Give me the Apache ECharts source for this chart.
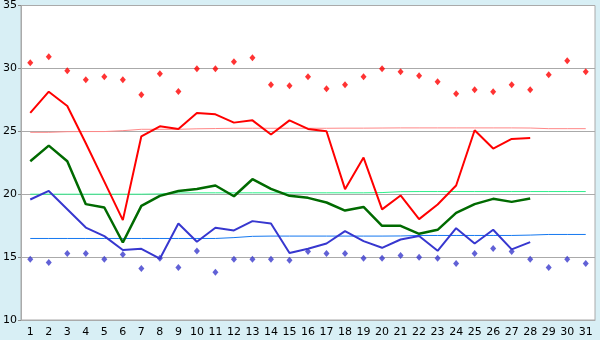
<!DOCTYPE html>
<html>
<head>
<meta charset="utf-8">
<script src="https://cdn.jsdelivr.net/npm/echarts@6/dist/echarts.min.js"></script>
<style>
  html, body { margin: 0; padding: 0; background: #d8eff5; }
  #chart { width: 600px; height: 340px; }
</style>
</head>
<body>
<div id="chart"></div>
<script>
// 日期 1..31
var days = [];
for (var d = 1; d <= 31; d++) days.push(String(d));

// 实测值 (1-28日)
var maxTemp = [26.46, 28.15, 27.01, 24.05, 21.0, 17.94, 24.6, 25.4, 25.19, 26.46,
  26.35, 25.69, 25.87, 24.74, 25.87, 25.19, 25.0, 20.4, 22.91, 18.79,
  19.9, 18.02, 19.18, 20.69, 25.08, 23.63, 24.39, 24.47];
var meanTemp = [22.62, 23.86, 22.62, 19.21, 18.94, 16.16, 19.07, 19.87, 20.26, 20.42,
  20.69, 19.84, 21.19, 20.42, 19.87, 19.71, 19.34, 18.7, 18.99, 17.49,
  17.49, 16.85, 17.17, 18.52, 19.21, 19.63, 19.39, 19.66];
var minTemp = [19.58, 20.26, 18.81, 17.35, 16.67, 15.56, 15.66, 14.87, 17.67, 16.22,
  17.33, 17.12, 17.86, 17.67, 15.32, 15.66, 16.08, 17.06, 16.27, 15.74,
  16.4, 16.67, 15.5, 17.3, 16.08, 17.17, 15.61, 16.19];

// 平年值
var normalMax = [24.92, 24.92, 24.97, 24.98, 24.98, 25.05, 25.16, 25.16, 25.16, 25.2,
  25.22, 25.24, 25.24, 25.24, 25.24, 25.24, 25.24, 25.25, 25.25, 25.26,
  25.27, 25.27, 25.27, 25.27, 25.27, 25.27, 25.27, 25.26, 25.21, 25.21, 25.21];
var normalMean = [20.0, 20.0, 20.0, 20.0, 20.0, 20.0, 20.0, 20.02, 20.1, 20.11,
  20.11, 20.11, 20.11, 20.11, 20.11, 20.11, 20.11, 20.11, 20.11, 20.13,
  20.2, 20.21, 20.21, 20.21, 20.21, 20.21, 20.21, 20.21, 20.21, 20.21, 20.21];
var normalMin = [16.48, 16.48, 16.48, 16.48, 16.48, 16.48, 16.48, 16.48, 16.48, 16.48,
  16.48, 16.55, 16.65, 16.67, 16.67, 16.67, 16.67, 16.67, 16.67, 16.67,
  16.68, 16.72, 16.72, 16.72, 16.72, 16.72, 16.72, 16.75, 16.8, 16.8, 16.8];

// 极值
var recordMax = [30.45, 30.93, 29.81, 29.1, 29.34, 29.1, 27.91, 29.58, 28.17, 29.98,
  29.98, 30.53, 30.85, 28.7, 28.62, 29.34, 28.39, 28.7, 29.34, 29.98,
  29.74, 29.42, 28.94, 27.99, 28.31, 28.15, 28.7, 28.31, 29.5, 30.61, 29.74];
var recordMin = [14.82, 14.58, 15.29, 15.29, 14.82, 15.21, 14.1, 14.9, 14.18, 15.48,
  13.79, 14.82, 14.82, 14.82, 14.74, 15.45, 15.29, 15.29, 14.9, 14.9,
  15.13, 14.98, 14.9, 14.5, 15.29, 15.69, 15.45, 14.82, 14.18, 14.82, 14.5];

var yTicks = [10, 15, 20, 25, 30, 35];

var myChart = echarts.init(document.getElementById('chart'), null, { renderer: 'canvas' });

function thinLine(data, color) {
  return {
    type: 'line', data: data, symbol: 'none', silent: true,
    lineStyle: { color: color, width: 1 }, z: 1
  };
}
function thickLine(data, color, w) {
  return {
    type: 'line', data: data, symbol: 'none', silent: true,
    lineStyle: { color: color, width: w }, z: 3
  };
}
function dots(data, color) {
  return {
    type: 'scatter', data: data, symbol: 'diamond', symbolSize: [6, 7],
    itemStyle: { color: color }, z: 4
  };
}

var option = {
  animation: false,
  backgroundColor: '#d8eff5',
  textStyle: { fontFamily: 'DejaVu Sans' },
  grid: {
    left: 20, right: 5, top: 5, bottom: 20,
    show: true, backgroundColor: '#ffffff', borderColor: '#aaaaaa', borderWidth: 1
  },
  xAxis: {
    type: 'category',
    data: days,
    boundaryGap: true,
    axisLine: { lineStyle: { color: '#aaaaaa' } },
    axisTick: { alignWithLabel: true, length: 4, lineStyle: { color: '#888888' } },
    axisLabel: { color: '#000', fontSize: 11, margin: 7, interval: 0 },
    splitLine: { show: false }
  },
  yAxis: {
    type: 'value',
    min: yTicks[0], max: yTicks[yTicks.length - 1], interval: 5,
    axisLine: { show: true, lineStyle: { color: '#aaaaaa' } },
    axisTick: { show: true, length: 3, lineStyle: { color: '#888888' } },
    axisLabel: { color: '#000', fontSize: 11, margin: 4 },
    splitLine: { lineStyle: { color: '#aaaaaa' } }
  },
  series: [
    thinLine(normalMax, '#ff8888'),
    thinLine(normalMean, '#2ef08a'),
    thinLine(normalMin, '#1478f0'),
    thickLine(maxTemp, '#ff0000', 2),
    thickLine(meanTemp, '#006a00', 2.5),
    thickLine(minTemp, '#3737cf', 2),
    dots(recordMax, '#ff0000'),
    dots(recordMin, '#3a3acc')
  ]
};

myChart.setOption(option);
</script>
</body>
</html>
